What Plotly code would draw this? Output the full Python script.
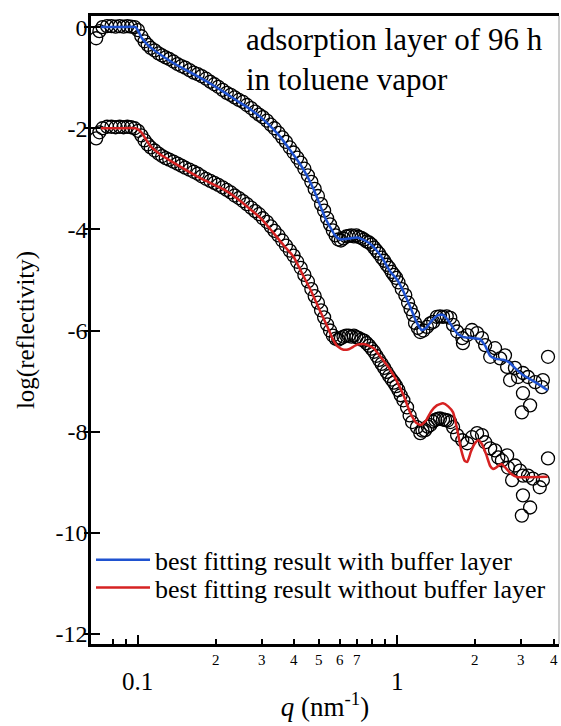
import math
import plotly.graph_objects as go

# ---------------- data ----------------
q_top = [0.069, 0.071, 0.073, 0.076, 0.079, 0.082, 0.085, 0.088, 0.091, 0.094, 0.097, 0.1,
         0.103, 0.106, 0.109, 0.112, 0.116, 0.12, 0.124, 0.128, 0.132, 0.137, 0.142, 0.147,
         0.152, 0.158, 0.164, 0.17, 0.176, 0.183, 0.19, 0.197, 0.204, 0.212, 0.22, 0.228,
         0.236, 0.245, 0.254, 0.263, 0.273, 0.283, 0.293, 0.303, 0.314, 0.325, 0.336, 0.348,
         0.36, 0.372, 0.385, 0.398, 0.411, 0.424, 0.438, 0.452, 0.466, 0.48, 0.494, 0.508,
         0.522, 0.536, 0.55, 0.564, 0.578, 0.592, 0.606, 0.62, 0.635, 0.65, 0.665, 0.68,
         0.695, 0.71, 0.727, 0.744, 0.761, 0.778, 0.795, 0.813, 0.831, 0.85, 0.87, 0.89,
         0.91, 0.93, 0.95, 0.97, 0.99, 1.01, 1.04, 1.073, 1.10, 1.125, 1.15, 1.17, 1.2,
         1.226, 1.26, 1.30, 1.34, 1.375, 1.42, 1.46, 1.50, 1.55, 1.60, 1.64, 1.70, 1.78,
         1.79, 1.86, 1.94, 2.03, 2.12, 2.18, 2.28, 2.38, 2.49, 2.60, 2.65, 2.72, 2.84,
         2.92, 3.05, 3.05, 3.02, 3.19, 3.25, 3.40, 3.61, 3.64, 3.81]
r_top = [-0.22, -0.08, 0.0, 0.02, 0.02, 0.01, 0.02, 0.01, 0.02, 0.01, 0.0, -0.06,
         -0.18, -0.28, -0.35, -0.41, -0.46, -0.52, -0.56, -0.60, -0.63, -0.68, -0.73, -0.77,
         -0.80, -0.85, -0.90, -0.93, -0.97, -1.02, -1.08, -1.13, -1.18, -1.24, -1.30, -1.34,
         -1.39, -1.44, -1.48, -1.54, -1.60, -1.67, -1.73, -1.78, -1.85, -1.93, -2.00, -2.09,
         -2.18, -2.27, -2.38, -2.48, -2.58, -2.68, -2.80, -2.93, -3.06, -3.20, -3.34, -3.50,
         -3.63, -3.78, -3.90, -4.02, -4.12, -4.20, -4.22, -4.18, -4.14, -4.13, -4.12, -4.14,
         -4.12, -4.15, -4.17, -4.20, -4.24, -4.26, -4.30, -4.36, -4.42, -4.48, -4.56, -4.62,
         -4.70, -4.76, -4.84, -4.90, -4.96, -5.05, -5.18, -5.30, -5.45, -5.58, -5.69, -5.85, -5.95,
         -6.03, -6.00, -5.93, -5.86, -5.83, -5.73, -5.72, -5.73, -5.72, -5.75, -5.89, -6.02, -6.15,
         -6.25, -6.09, -5.99, -6.05, -6.15, -6.29, -6.52, -6.35, -6.55, -6.49, -6.72, -6.98, -6.74,
         -6.92, -6.84, -7.24, -7.62, -6.92, -7.48, -7.02, -7.12, -6.98, -6.52]

q_bot = [0.069, 0.071, 0.073, 0.076, 0.079, 0.082, 0.085, 0.088, 0.091, 0.094, 0.097, 0.1,
         0.103, 0.106, 0.109, 0.112, 0.116, 0.12, 0.124, 0.128, 0.132, 0.137, 0.142, 0.147,
         0.152, 0.158, 0.164, 0.17, 0.176, 0.183, 0.19, 0.197, 0.204, 0.212, 0.22, 0.228,
         0.236, 0.245, 0.254, 0.263, 0.273, 0.283, 0.293, 0.303, 0.314, 0.325, 0.336, 0.348,
         0.36, 0.372, 0.385, 0.398, 0.411, 0.424, 0.438, 0.452, 0.466, 0.48, 0.494, 0.508,
         0.522, 0.536, 0.55, 0.564, 0.578, 0.592, 0.606, 0.62, 0.635, 0.65, 0.665, 0.68,
         0.695, 0.71, 0.727, 0.744, 0.761, 0.778, 0.795, 0.813, 0.831, 0.85, 0.87, 0.89,
         0.91, 0.93, 0.95, 0.97, 0.99, 1.01, 1.03, 1.055, 1.09, 1.115, 1.14, 1.19, 1.226,
         1.25, 1.28, 1.31, 1.34, 1.37, 1.40, 1.43, 1.46, 1.50, 1.53, 1.56, 1.60, 1.64,
         1.70, 1.78, 1.86, 1.94, 2.03, 2.12, 2.18, 2.28, 2.38, 2.45, 2.53, 2.65, 2.67,
         2.77, 2.84, 2.97, 3.05, 3.19, 3.33, 3.54, 3.64, 3.81, 3.05, 3.25, 3.02]
r_bot = [-2.20, -2.08, -2.00, -1.97, -1.97, -1.98, -1.97, -1.98, -1.97, -1.98, -2.00, -2.05,
         -2.14, -2.24, -2.32, -2.38, -2.44, -2.50, -2.55, -2.59, -2.62, -2.66, -2.70, -2.74,
         -2.78, -2.82, -2.86, -2.90, -2.95, -3.00, -3.04, -3.08, -3.12, -3.17, -3.22, -3.27,
         -3.33, -3.38, -3.44, -3.50, -3.57, -3.64, -3.70, -3.78, -3.85, -3.94, -4.03, -4.12,
         -4.22, -4.32, -4.42, -4.52, -4.64, -4.76, -4.90, -5.03, -5.18, -5.32, -5.45, -5.60,
         -5.74, -5.88, -6.00, -6.10, -6.16, -6.18, -6.15, -6.12, -6.10, -6.10, -6.12, -6.10,
         -6.13, -6.15, -6.18, -6.20, -6.25, -6.30, -6.36, -6.42, -6.50, -6.58, -6.66, -6.74,
         -6.82, -6.90, -6.97, -7.03, -7.10, -7.18, -7.28, -7.38, -7.52, -7.68, -7.81, -7.91, -8.03,
         -7.98, -7.97, -7.90, -7.87, -7.80, -7.77, -7.75, -7.74, -7.76, -7.77, -7.78, -7.81, -7.91,
         -8.07, -8.17, -8.23, -8.11, -8.03, -8.07, -8.21, -8.33, -8.37, -8.51, -8.57, -8.47, -8.71,
         -8.96, -8.67, -8.77, -8.87, -8.87, -8.93, -9.10, -8.96, -8.53, -9.26, -9.50, -9.66]

q_fit_top = [0.072, 0.085, 0.098, 0.103, 0.108, 0.115, 0.125, 0.14, 0.16, 0.185, 0.214, 0.24,
             0.272, 0.30, 0.333, 0.355, 0.377, 0.405, 0.435, 0.475, 0.506, 0.53, 0.553, 0.575,
             0.603, 0.65, 0.70, 0.75, 0.80, 0.87, 0.94, 1.0, 1.06, 1.12, 1.19, 1.24, 1.29,
             1.36, 1.43, 1.50, 1.57, 1.64, 1.72, 1.80, 1.95, 2.08, 2.18, 2.28, 2.40, 2.56,
             2.70, 2.85, 3.05, 3.30, 3.55, 3.80]
r_fit_top = [0.0, 0.0, 0.0, -0.2, -0.33, -0.45, -0.58, -0.74, -0.9, -1.08, -1.28, -1.45,
             -1.63, -1.8, -2.02, -2.18, -2.36, -2.58, -2.82, -3.2, -3.55, -3.8, -3.97, -4.12,
             -4.2, -4.18, -4.16, -4.22, -4.32, -4.55, -4.84, -5.0, -5.25, -5.53, -5.85, -5.99, -5.95,
             -5.8, -5.7, -5.69, -5.8, -5.95, -6.08, -6.13, -6.15, -6.17, -6.3, -6.5, -6.56, -6.58,
             -6.63, -6.75, -6.88, -6.98, -7.08, -7.18]

q_fit_bot = [0.072, 0.085, 0.098, 0.103, 0.112, 0.122, 0.137, 0.15, 0.17, 0.19, 0.214, 0.24,
             0.272, 0.30, 0.333, 0.365, 0.398, 0.43, 0.463, 0.50, 0.538, 0.565, 0.59, 0.62,
             0.65, 0.70, 0.75, 0.81, 0.87, 0.94, 1.0, 1.06, 1.12, 1.18, 1.23, 1.29, 1.35,
             1.42, 1.50, 1.57, 1.64, 1.70, 1.76, 1.82, 1.86, 1.92, 1.98, 2.05, 2.12, 2.20,
             2.28, 2.34, 2.42, 2.52, 2.62, 2.75, 2.90, 3.20, 3.80]
r_fit_bot = [-2.0, -2.0, -2.0, -2.08, -2.36, -2.52, -2.68, -2.8, -2.96, -3.08, -3.21, -3.38,
             -3.61, -3.8, -4.07, -4.32, -4.54, -4.88, -5.2, -5.58, -5.93, -6.18, -6.32, -6.38,
             -6.37, -6.28, -6.27, -6.35, -6.55, -6.78, -7.02, -7.3, -7.62, -7.82, -7.87, -7.78, -7.6,
             -7.48, -7.44, -7.5, -7.62, -7.95, -8.35, -8.58, -8.6, -8.4, -8.25, -8.17, -8.25, -8.45,
             -8.68, -8.74, -8.7, -8.64, -8.72, -8.84, -8.9, -8.9, -8.89]

y_tick_vals = [0, -2, -4, -6, -8, -10, -12]
y_tick_text = ["0", "-2", "-4", "-6", "-8", "-10", "-12"]
x_major_vals = [0.1, 1]
x_major_text = ["0.1", "1"]
x_minor_vals = [0.08, 0.09, 0.2, 0.3, 0.4, 0.5, 0.6, 0.7, 0.8, 0.9, 2, 3, 4]
x_minor_label_vals = [0.2, 0.3, 0.4, 0.5, 0.6, 0.7, 2, 3, 4]
x_minor_label_text = ["2", "3", "4", "5", "6", "7", "2", "3", "4"]

series_names = ["best fitting result with buffer layer", "best fitting result without buffer layer"]
note_text = "adsorption layer of 96 h<br>in toluene vapor"

FONT = "Liberation Serif"
BLUE = "#1f52d0"
RED = "#d62222"

fig = go.Figure()
marker_style = dict(symbol="circle-open", size=13, color="black", line=dict(width=1.3, color="black"))
fig.add_trace(go.Scatter(x=q_top, y=r_top, mode="markers", marker=marker_style, showlegend=False))
fig.add_trace(go.Scatter(x=q_bot, y=r_bot, mode="markers", marker=marker_style, showlegend=False))
fig.add_trace(go.Scatter(x=q_fit_top, y=r_fit_top, mode="lines", name=series_names[0],
                         legend="legend",
                         line=dict(color=BLUE, width=2.5, shape="spline", smoothing=0.5)))
fig.add_trace(go.Scatter(x=q_fit_bot, y=r_fit_bot, mode="lines", name=series_names[1],
                         legend="legend2",
                         line=dict(color=RED, width=2.5, shape="spline", smoothing=0.5)))
# empty trace so the overlay axis (outer half of the y ticks) is drawn
fig.add_trace(go.Scatter(x=[], y=[], yaxis="y2", showlegend=False, hoverinfo="skip"))

xr = [math.log10(0.0659), math.log10(4.2)]
yr = [-12.2, 0.22]

legend_common = dict(xanchor="left", yanchor="middle", bgcolor="rgba(0,0,0,0)",
                     font=dict(family=FONT, size=26, color="black"), itemwidth=54)

fig.update_layout(
    width=561, height=726,
    margin=dict(l=91, r=2, t=16, b=82),
    paper_bgcolor="white", plot_bgcolor="white",
    font=dict(family=FONT, color="black"),
    showlegend=True,
    legend=dict(x=0.0, y=0.134, **legend_common),
    legend2=dict(x=0.0, y=0.090, **legend_common),
    xaxis=dict(type="log", range=xr, showgrid=False, zeroline=False,
               showline=True, linecolor="black", linewidth=2.5, mirror=True,
               tickmode="array", tickvals=x_major_vals, ticks="inside", ticklen=9,
               tickwidth=2, tickcolor="black", showticklabels=False,
               minor=dict(tickmode="array", tickvals=x_minor_vals, ticks="inside",
                          ticklen=5, tickwidth=2, tickcolor="black"),
               title=dict(text="<i>q</i> (nm<sup>-1</sup>)", font=dict(size=27, family=FONT),
                          standoff=52)),
    yaxis=dict(range=yr, showgrid=False, zeroline=False,
               showline=True, linecolor="black", linewidth=2.5, mirror=False,
               tickmode="array", tickvals=y_tick_vals, ticktext=y_tick_text,
               ticks="inside", ticklen=9, tickwidth=2, tickcolor="black",
               ticklabelstandoff=-4,
               tickfont=dict(size=24, family=FONT),
               title=dict(text="log(reflectivity)", font=dict(size=25, family=FONT), standoff=14)),
    yaxis2=dict(range=yr, overlaying="y", side="left", showgrid=False, zeroline=False,
                showline=False, tickmode="array", tickvals=y_tick_vals, ticks="outside",
                ticklen=6, tickwidth=2, tickcolor="black", showticklabels=False),
)

# thin right border
fig.add_shape(type="line", xref="paper", yref="paper", x0=1, x1=1, y0=0, y1=1,
              line=dict(color="#9a9a9a", width=1))

# x tick labels (major: large, lower; minor: small, upper)
for v, t in zip(x_major_vals, x_major_text):
    fig.add_annotation(x=math.log10(v), y=0, xref="x", yref="paper", text=t, showarrow=False,
                       xanchor="center", yanchor="middle", yshift=-37,
                       font=dict(size=25, family=FONT, color="black"))
for v, t in zip(x_minor_label_vals, x_minor_label_text):
    fig.add_annotation(x=math.log10(v), y=0, xref="x", yref="paper", text=t, showarrow=False,
                       xanchor="center", yanchor="middle", yshift=-16,
                       font=dict(size=15, family=FONT, color="black"))

fig.add_annotation(x=0.326, y=1.0, xref="paper", yref="paper", text=note_text, showarrow=False,
                   xanchor="left", yanchor="top", align="left", yshift=-4,
                   font=dict(size=31, family=FONT, color="black"))

fig.write_html("out.html")
